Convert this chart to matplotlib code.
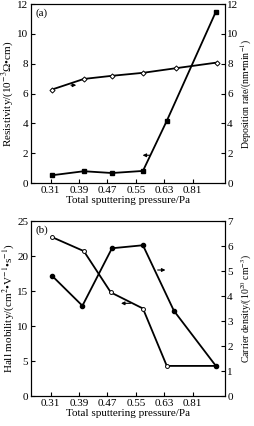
import matplotlib
matplotlib.use('Agg')
import matplotlib.pyplot as plt

plt.rcParams['font.family'] = ['Liberation Serif', 'DejaVu Serif']
plt.rcParams['mathtext.fontset'] = 'stix'
plt.rcParams['font.size'] = 8

# tick labels (evenly spaced categories)
pressure_labels = ['0.31', '0.39', '0.47', '0.55', '0.63', '0.81']
tick_pos = [0, 1, 2, 3, 4, 5]

# (a) resistivity (left) and deposition rate (right)
x_res = [0.05, 1.17, 2.16, 3.25, 4.09, 5.82]
resistivity = [0.52, 0.79, 0.67, 0.81, 4.17, 11.5]
x_dep = [0.05, 1.17, 2.16, 3.25, 4.41, 5.86]
deposition = [6.27, 6.98, 7.19, 7.39, 7.70, 8.08]

# (b) Hall mobility (left) and carrier density (right)
x_mob = [0.05, 1.17, 2.12, 3.25, 4.09, 5.82]
mobility = [22.7, 20.7, 14.8, 12.5, 4.3, 4.3]
x_car = [0.05, 1.12, 2.16, 3.25, 4.34, 5.82]
carrier = [4.81, 3.61, 5.91, 6.03, 3.41, 1.20]

fig = plt.figure(figsize=(2.54, 4.26), dpi=100)
ax1 = fig.add_axes([0.122, 0.5704, 0.764, 0.420])
ax3 = fig.add_axes([0.122, 0.0704, 0.764, 0.4108])

def style(ax, pad=2):
    ax.tick_params(direction='in', length=3, width=0.8, pad=pad, labelsize=8)
    for s in ax.spines.values():
        s.set_linewidth(0.8)

arrow = dict(arrowstyle='-|>', lw=0.8, color='black', mutation_scale=5)

# 图 (a)
ax1.plot(x_res, resistivity, color='black', lw=1.3, marker='s', ms=3.2,
         mfc='black', mec='black')
ax1.set_xlim(-0.69, 6.14)
ax1.set_ylim(0, 12)
ax1.set_yticks(range(0, 13, 2))
ax1.set_xticks(tick_pos)
ax1.set_xticklabels(pressure_labels)
ax1.set_xlabel('Total sputtering pressure/Pa', labelpad=1)
ax1.set_ylabel(r'Resistivity/(10$^{-3}$Ω•cm)', labelpad=1)
ax1.text(0.025, 0.975, '(a)', transform=ax1.transAxes, ha='left', va='top')
ax1.annotate('', xy=(3.14, 1.86), xytext=(3.6, 1.86), arrowprops=arrow)
style(ax1)

ax2 = ax1.twinx()
ax2.plot(x_dep, deposition, color='black', lw=1.3, marker='D', ms=2.6,
         mfc='white', mec='black', mew=0.7)
ax2.set_ylim(0, 12)
ax2.set_yticks(range(0, 13, 2))
ax2.set_ylabel(r'Deposition rate/(nm•min$^{-1}$)', fontsize=7, va='center')
ax2.yaxis.set_label_coords(1.11, 0.5)
ax2.annotate('', xy=(1.0, 6.56), xytext=(0.62, 6.56), arrowprops=arrow)
style(ax2, pad=1.5)

# 图 (b)
ax3.plot(x_mob, mobility, color='black', lw=1.3, marker='o', ms=2.8,
         mfc='white', mec='black', mew=0.7)
ax3.set_xlim(-0.69, 6.14)
ax3.set_ylim(0, 25)
ax3.set_yticks(range(0, 26, 5))
ax3.set_xticks(tick_pos)
ax3.set_xticklabels(pressure_labels)
ax3.set_xlabel('Total sputtering pressure/Pa', labelpad=1)
ax3.set_ylabel(r'Hall mobility/(cm$^2$•V$^{-1}$•s$^{-1}$)', labelpad=1)
ax3.text(0.025, 0.975, '(b)', transform=ax3.transAxes, ha='left', va='top')
ax3.annotate('', xy=(2.38, 13.24), xytext=(2.91, 13.24), arrowprops=arrow)
ax3.annotate('', xy=(4.14, 18.0), xytext=(3.67, 18.0), arrowprops=arrow)
style(ax3)

ax4 = ax3.twinx()
ax4.plot(x_car, carrier, color='black', lw=1.3, marker='o', ms=3.0,
         mfc='black', mec='black')
ax4.set_ylim(0, 7)
ax4.set_yticks(range(0, 8))
ax4.set_ylabel(r'Carrier density/(10$^{20}$ cm$^{-3}$)', fontsize=7, va='center')
ax4.yaxis.set_label_coords(1.11, 0.5)
style(ax4, pad=1.5)

plt.savefig('out.png', dpi=100)
